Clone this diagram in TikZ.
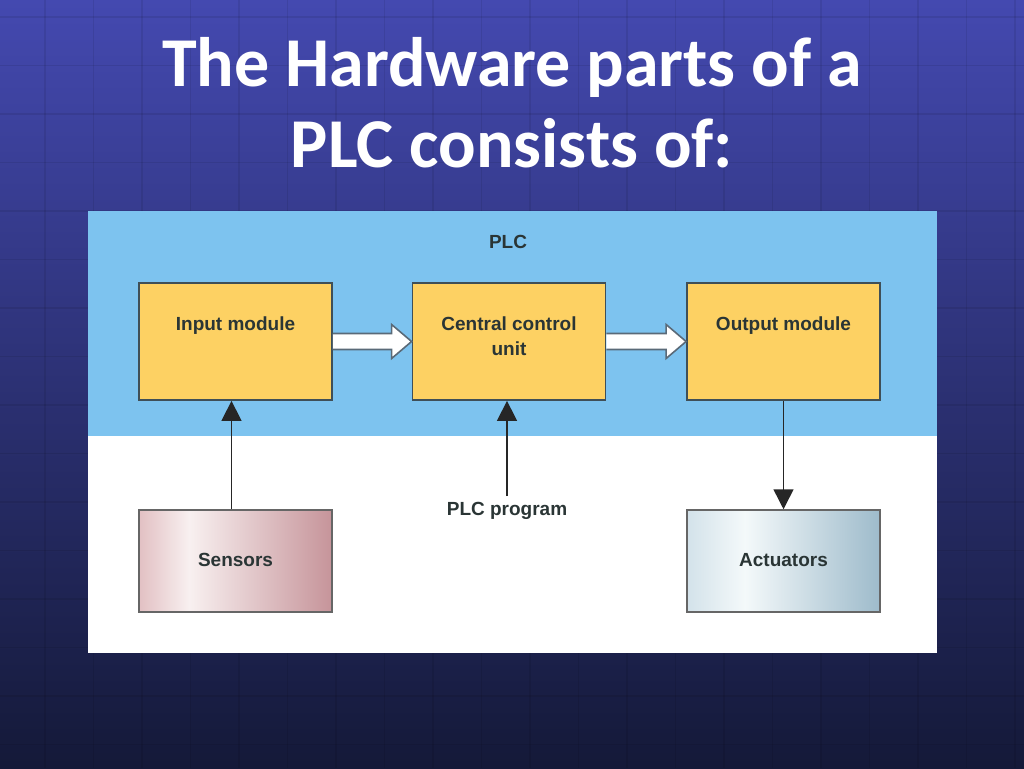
\documentclass[tikz,border=0pt]{standalone}
\usepackage{fontspec}
\setmainfont{Liberation Sans}
\newfontfamily\titlefont{Carlito}
\usetikzlibrary{calc,arrows.meta}
\definecolor{bgtop}{HTML}{4449B0}
\definecolor{bgmid}{HTML}{2C3080}
\definecolor{bgbot}{HTML}{141938}
\definecolor{plcblue}{HTML}{7DC3EF}
\definecolor{boxyellow}{HTML}{FDD163}
\definecolor{boxborder}{HTML}{3F4F57}
\definecolor{textdark}{HTML}{2A3535}
\definecolor{senA}{HTML}{E2C0C3}
\definecolor{senW}{HTML}{F8F0F0}
\definecolor{senB}{HTML}{C6949A}
\definecolor{actA}{HTML}{D3E2EA}
\definecolor{actW}{HTML}{F4F9FA}
\definecolor{actB}{HTML}{9EBBCB}
\definecolor{hollowborder}{HTML}{5A6A78}
\pgfdeclarehorizontalshading{senshade}{100bp}{color(0bp)=(senA); color(25bp)=(senA); color(38bp)=(senW); color(75bp)=(senB); color(100bp)=(senB)}
\pgfdeclarehorizontalshading{actshade}{100bp}{color(0bp)=(actA); color(25bp)=(actA); color(40bp)=(actW); color(75bp)=(actB); color(100bp)=(actB)}
\tikzset{
  gridline/.style={black, opacity=0.08, line width=1.5pt},
  boxtext/.style={text=textdark, font=\bfseries\fontsize{19}{25}\selectfont, align=center},
  module/.style={draw=boxborder, line width=1.8pt, fill=boxyellow, minimum width=193pt, minimum height=117pt, inner sep=0pt},
  device/.style={draw=gray!80!black, line width=1.5pt, minimum width=193pt, minimum height=102pt, boxtext},
  thinarrow/.style={draw=black!85, line width=1.5pt, -{Triangle[length=20pt,width=20pt]}},
  hollow/.style={draw=hollowborder, fill=white, line width=1.6pt, line join=miter},
}
\begin{document}
\begin{tikzpicture}[x=1pt,y=-1pt]
\useasboundingbox (0,0) rectangle (1024,768);
\shade[top color=bgtop, middle color=bgmid, bottom color=bgbot] (0,0) rectangle (1024,768);
\foreach \i in {0,...,20} \draw[gridline] ({45+48.5*\i},0) -- ({45+48.5*\i},768);
\foreach \j in {0,...,15} \draw[gridline] (0,{17+48.5*\j}) -- (1024,{17+48.5*\j});
\node[font=\titlefont\bfseries\fontsize{70}{81}\selectfont, text=white, align=center] (title) at (512,103) {The Hardware parts of a\\PLC consists of:};
% panel
\fill[white] (88,211) rectangle (937,653);
\fill[plcblue] (88,211) rectangle (937,436);
\node[boxtext] (plc) at (508,242) {PLC};
% modules
\node[module, label={[boxtext, anchor=north, yshift=-31pt]north:Input module}] (inp) at (235.5,341.5) {};
\node[module, label={[boxtext, anchor=north, yshift=-31pt]north:Central control\\unit}] (ccu) at (509,341.5) {};
\node[module, label={[boxtext, anchor=north, yshift=-31pt]north:Output module}] (outm) at (783.5,341.5) {};
% devices
\node[device, shading=senshade] (sen) at (235.5,561) {\raisebox{3pt}{Sensors}};
\node[device, shading=actshade] (act) at (783.5,561) {\raisebox{3pt}{Actuators}};
\node[boxtext, inner ysep=6pt] (prog) at (507,511) {PLC program};
% hollow arrows
\foreach \a/\b in {inp/ccu, ccu/outm}{
  \draw[hollow] ($(\a.east)+(0,-8)$) -- ($(\b.west)+(-20,-8)$) -- ($(\b.west)+(-20,-17)$) -- (\b.west) -- ($(\b.west)+(-20,17)$) -- ($(\b.west)+(-20,8)$) -- ($(\a.east)+(0,8)$);
}
% thin arrows
\draw[thinarrow] ($(sen.north)+(-4,0)$) -- ($(inp.south)+(-4,0)$);
\draw[thinarrow] (prog.north) -- (prog.north |- ccu.south);
\draw[thinarrow] (outm.south) -- (act.north);
\end{tikzpicture}
\end{document}
